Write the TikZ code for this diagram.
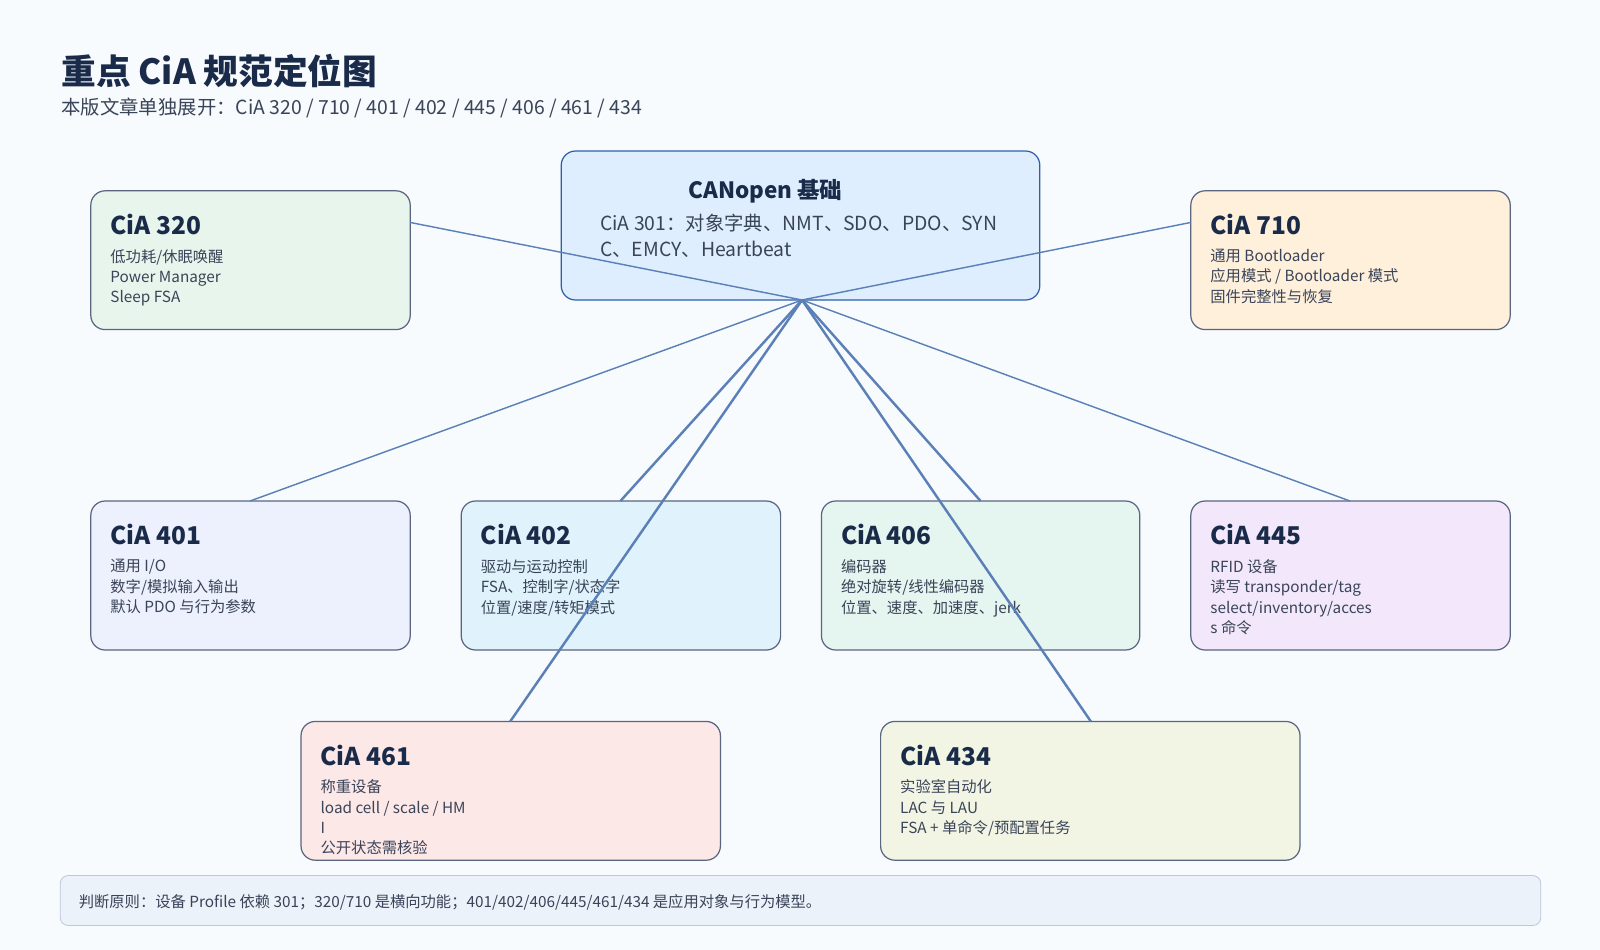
\documentclass[tikz,border=0pt]{standalone}
\usepackage{fontspec}
\setmainfont{Noto Sans CJK SC}
\definecolor{navy}{HTML}{1A2B4A}\definecolor{txt}{HTML}{3A4458}
\definecolor{lnk}{HTML}{5B80B8}\definecolor{bd}{HTML}{5A6580}
\definecolor{bg}{RGB}{247,251,254}\definecolor{cob}{RGB}{47,95,168}
\definecolor{f320}{RGB}{232,245,236}\definecolor{fco}{RGB}{222,238,254}
\definecolor{f710}{RGB}{255,240,220}\definecolor{f401}{RGB}{237,240,253}
\definecolor{f402}{RGB}{224,243,252}\definecolor{f406}{RGB}{229,245,240}
\definecolor{f445}{RGB}{243,232,251}\definecolor{f461}{RGB}{253,232,232}
\definecolor{f434}{RGB}{242,245,228}\definecolor{ffoot}{RGB}{236,242,250}
\definecolor{dfoot}{RGB}{190,200,220}
\begin{document}
\begin{tikzpicture}[x=1pt,y=-1pt,
 box/.style={draw=#1,line width=1.2pt,rounded corners=14pt},
 ttl/.style={anchor=west,inner sep=0,font=\fontsize{24}{28}\selectfont\bfseries,text=navy},
 bdy/.style={anchor=north west,inner sep=0,align=left,font=\fontsize{15}{20}\selectfont,text=txt},
 link/.style={draw=lnk,line width=1.4pt}]
\fill[bg] (0,0) rectangle (1568,931);
\useasboundingbox (0,0) rectangle (1568,931);
\node[anchor=west,inner sep=0,font=\fontsize{34}{40}\selectfont\bfseries,text=navy] (title) at (60,70) {重点 CiA 规范定位图};
\node[anchor=west,inner sep=0,font=\fontsize{19}{24}\selectfont,text=txt] (sub) at (60,106) {本版文章单独展开：CiA 320 / 710 / 401 / 402 / 445 / 406 / 461 / 434};
% boxes
\path[box=bd,fill=f320] (89,187) rectangle (402,323);
\path[box=cob,fill=fco] (550,148) rectangle (1019,294);
\path[box=bd,fill=f710] (1167,187) rectangle (1480,323);
\path[box=bd,fill=f401] (89,491) rectangle (402,637);
\path[box=bd,fill=f402] (452,491) rectangle (765,637);
\path[box=bd,fill=f406] (805,491) rectangle (1117,637);
\path[box=bd,fill=f445] (1167,491) rectangle (1480,637);
\path[box=bd,fill=f461] (295,707) rectangle (706,843);
\path[box=bd,fill=f434] (863,707) rectangle (1274,843);
\path[draw=dfoot,fill=ffoot,rounded corners=8pt,line width=0.8pt] (59,858) rectangle (1510,907);
% anchors
\coordinate (hub) at (786,294);
\coordinate (a320) at (402,218); \coordinate (a710) at (1167,218);
\coordinate (a401) at (245,491); \coordinate (a402) at (608,491);
\coordinate (a406) at (961,491); \coordinate (a445) at (1323,491);
\coordinate (a461) at (500,707); \coordinate (a434) at (1069,707);
% texts
\node[anchor=center,inner sep=0,font=\fontsize{22}{26}\selectfont\bfseries,text=navy] (cot) at (750,187) {CANopen 基础};
\node[anchor=north west,inner sep=0,align=left,font=\fontsize{19}{25}\selectfont,text=txt] (cobt) at (588,210) {CiA 301：对象字典、NMT、SDO、PDO、SYN\\C、EMCY、Heartbeat};
\node[ttl] (t320) at (108,220) {CiA 320};
\node[bdy] (b320) at (108,244) {低功耗/休眠唤醒\\Power Manager\\Sleep FSA};
\node[ttl] (t710) at (1186,220) {CiA 710};
\node[bdy] (b710) at (1186,244) {通用 Bootloader\\应用模式 / Bootloader 模式\\固件完整性与恢复};
\node[ttl] (t401) at (108,524) {CiA 401};
\node[bdy] (b401) at (108,548) {通用 I/O\\数字/模拟输入输出\\默认 PDO 与行为参数};
\node[ttl] (t402) at (471,524) {CiA 402};
\node[bdy] (b402) at (471,548) {驱动与运动控制\\FSA、控制字/状态字\\位置/速度/转矩模式};
\node[ttl] (t406) at (824,524) {CiA 406};
\node[bdy] (b406) at (824,548) {编码器\\绝对旋转/线性编码器\\位置、速度、加速度、jerk};
\node[ttl] (t445) at (1186,524) {CiA 445};
\node[bdy] (b445) at (1186,548) {RFID 设备\\读写 transponder/tag\\select/inventory/acces\\s 命令};
\node[ttl] (t461) at (314,740) {CiA 461};
\node[bdy] (b461) at (314,764) {称重设备\\load cell / scale / HM\\I\\公开状态需核验};
\node[ttl] (t434) at (882,740) {CiA 434};
\node[bdy] (b434) at (882,764) {实验室自动化\\LAC 与 LAU\\FSA + 单命令/预配置任务};
\node[anchor=west,inner sep=0,font=\fontsize{15}{18}\selectfont,text=txt] (foot) at (77,884) {判断原则：设备 Profile 依赖 301；320/710 是横向功能；401/402/406/445/461/434 是应用对象与行为模型。};
% links
\draw[link] (a320) -- (hub); \draw[link] (a710) -- (hub);
\draw[link] (a401) -- (hub); \draw[link] (a445) -- (hub);
\draw[link,line width=2.4pt] (a402) -- (hub); \draw[link,line width=2.4pt] (a406) -- (hub);
\draw[link,line width=2.4pt] (a461) -- (hub); \draw[link,line width=2.4pt] (a434) -- (hub);
\end{tikzpicture}
\end{document}
